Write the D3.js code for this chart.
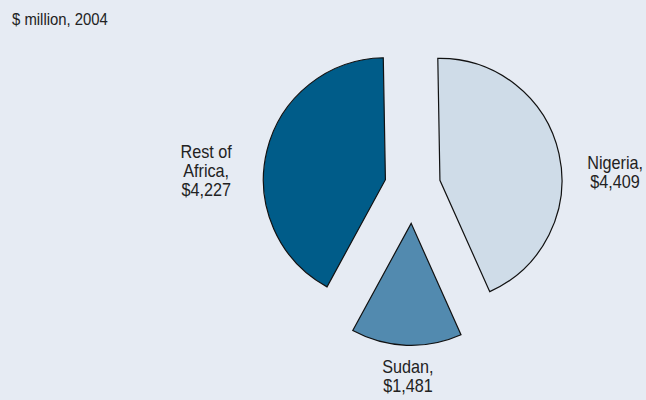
<!DOCTYPE html>
<html lang="en">
<head>
<meta charset="utf-8">
<title>$ million, 2004</title>
<script src="https://cdn.jsdelivr.net/npm/d3@7"></script>
<style>
  html, body { margin: 0; padding: 0; background: #e6ebf3; }
  svg { display: block; }
  text { font-family: "Liberation Sans", Arial, sans-serif; fill: #222; }
</style>
</head>
<body>
<svg width="646" height="400"></svg>
<script>
// data
var countries = ["Nigeria", "Sudan", "Rest of Africa"];
var values = [4409, 1481, 4227];
var valueLabels = ["$4,409", "$1,481", "$4,227"];
var nameLines = [["Nigeria,"], ["Sudan,"], ["Rest of", "Africa,"]];
var colors = ["#cfdce8", "#528aaf", "#005c89"];

var svg = d3.select("svg"),
    width = +svg.attr("width"),
    height = +svg.attr("height"),
    cx = 412.6,
    cy = 186.4,
    radius = 122,
    explode = [28, 37, 28],
    // label anchor: angle (deg, clockwise from top) and distance from centre
    labelAngle = [86, 181.4, 274.3],
    labelDist = [203, 190, 207];

svg.append("text")
   .attr("transform", "translate(12,25) scale(0.93,1)")
   .style("font-size", "16px")
   .text("$ million, 2004");

var pie = d3.pie()
    .sort(null)
    .startAngle(-Math.PI / 180)
    .endAngle(2 * Math.PI - Math.PI / 180)
    .value(function(d) { return d; });

var arc = d3.arc().innerRadius(0).outerRadius(radius);

var arcs = pie(values);

var g = svg.append("g").attr("transform", "translate(" + cx + "," + cy + ")");

g.selectAll("path")
 .data(arcs)
 .enter().append("path")
 .attr("transform", function(d, i) {
   var a = (d.startAngle + d.endAngle) / 2;
   return "translate(" + (Math.sin(a) * explode[i]) + "," + (-Math.cos(a) * explode[i]) + ")";
 })
 .attr("d", arc)
 .attr("fill", function(d, i) { return colors[i]; })
 .attr("stroke", "#111")
 .attr("stroke-width", 1.2)
 .attr("stroke-linejoin", "miter");

// labels (condensed look via horizontal squeeze)
var lineH = 19;
var labels = g.selectAll(".lbl")
 .data(arcs)
 .enter().append("text")
 .attr("class", "lbl")
 .attr("text-anchor", "middle")
 .style("font-size", "18px")
 .attr("transform", function(d, i) {
   var a = labelAngle[i] * Math.PI / 180;
   return "translate(" + (Math.sin(a) * labelDist[i]) + "," + (-Math.cos(a) * labelDist[i]) + ") scale(0.9,1)";
 });

labels.each(function(d, i) {
  var lines = nameLines[i].concat([valueLabels[i]]);
  var t = d3.select(this);
  var y0 = -(lines.length - 1) * lineH / 2 + 6.5;
  lines.forEach(function(l, j) {
    t.append("tspan").attr("x", 0).attr("y", y0 + j * lineH).text(l);
  });
});
</script>
</body>
</html>
